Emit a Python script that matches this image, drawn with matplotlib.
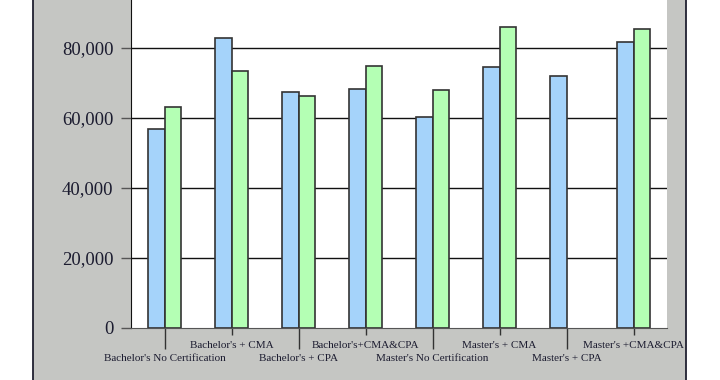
import matplotlib
matplotlib.use("Agg")
import matplotlib.pyplot as plt
from matplotlib.patches import Rectangle
import numpy as np

categories = ["Bachelor's No Certification", "Bachelor's + CMA", "Bachelor's + CPA",
              "Bachelor's+CMA&CPA", "Master's No Certification", "Master's + CMA",
              "Master's + CPA", "Master's +CMA&CPA"]
series_blue = [56800, 83000, 67500, 68400, 60200, 74700, 72100, 81700]
series_green = [63200, 73500, 66400, 74900, 68100, 85900, np.nan, 85300]
y_ticks = [0, 20000, 40000, 60000, 80000]
y_tick_labels = ["0", "20,000", "40,000", "60,000", "80,000"]

W, H = 720, 380
fig = plt.figure(figsize=(W / 100, H / 100), dpi=100)
fig.patch.set_facecolor("white")

# grey chart area
fig.patches.append(Rectangle((33 / W, 0), (686 - 33) / W, 1.0, transform=fig.transFigure,
                             facecolor="#C5C6C3", edgecolor="none", zorder=-2))
for xe in (33, 686):
    fig.add_artist(plt.Line2D([xe / W, xe / W], [0, 1], transform=fig.transFigure,
                              color="#202030", lw=1.3, zorder=-1))

ax = fig.add_axes([131 / W, (H - 328) / H, (667 - 131) / W, 350 / H])
ax.set_zorder(2)
ax.set_facecolor("white")
x = np.arange(len(categories))
bw = 0.25
ax.bar(x - bw / 2, series_blue, width=bw, color="#A5D3FA", edgecolor="#333333", lw=1.2, zorder=3)
ax.bar(x + bw / 2, series_green, width=bw, color="#B4FFB4", edgecolor="#333333", lw=1.2, zorder=3)

ax.set_xlim(-0.5, len(categories) - 0.5)
ax.set_ylim(0, 100000)
for yv in y_ticks[1:]:
    ax.axhline(yv, color="#111111", lw=1, zorder=1)

for s in ("top", "right"):
    ax.spines[s].set_visible(False)
ax.spines["left"].set_color("#111111")
ax.spines["bottom"].set_color("#555555")
ax.spines["left"].set_zorder(4)
ax.spines["bottom"].set_zorder(4)

ax.set_yticks(y_ticks)
ax.set_yticklabels(y_tick_labels, fontfamily="Liberation Serif", fontsize=13.5, color="#1c1c30")
ax.tick_params(axis="y", length=7.2, width=1, color="#555555", pad=5.5)

major = x[0::2]
minor = x[1::2]
ax.set_xticks(major)
ax.set_xticklabels([categories[i] for i in major], fontfamily="Liberation Serif",
                   fontsize=8, color="#1c1c30")
ax.set_xticks(minor, minor=True)
ax.set_xticklabels([categories[i] for i in minor], minor=True, fontfamily="Liberation Serif",
                   fontsize=8, color="#1c1c30")
ax.tick_params(axis="x", which="major", length=15, width=1, color="#333333", pad=3.5)
ax.tick_params(axis="x", which="minor", length=5, width=1, color="#333333", pad=4.5)

fig.savefig("out.png", dpi=100, facecolor="white")
